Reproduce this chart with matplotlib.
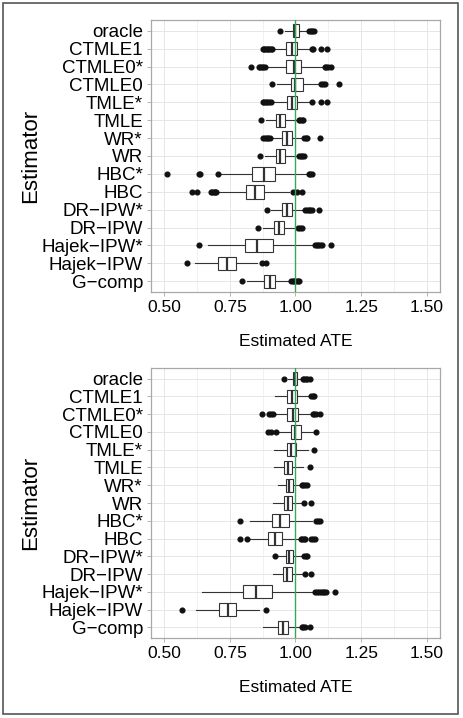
import matplotlib

matplotlib.use("Agg")
import matplotlib.pyplot as plt
from matplotlib.patches import Rectangle
from matplotlib.ticker import MultipleLocator

plt.rcParams["font.family"] = ["Liberation Sans", "DejaVu Sans"]

# ── Data ──────────────────────────────────────────────────────────────────────

estimators = [
    "oracle", "CTMLE1", "CTMLE0*", "CTMLE0", "TMLE*", "TMLE", "WR*", "WR",
    "HBC*", "HBC", "DR−IPW*", "DR−IPW", "Hajek−IPW*", "Hajek−IPW", "G−comp",
]

# top panel: whisker low, q1, median, q3, whisker high, outliers
top_whislo = [0.961, 0.913, 0.890, 0.928, 0.909, 0.887, 0.907, 0.884,
              0.718, 0.704, 0.906, 0.878, 0.666, 0.616, 0.817]
top_q1 = [0.990, 0.965, 0.965, 0.981, 0.966, 0.925, 0.950, 0.925,
          0.834, 0.810, 0.948, 0.919, 0.807, 0.706, 0.879]
top_med = [0.999, 0.986, 0.993, 1.000, 0.987, 0.941, 0.966, 0.941,
           0.879, 0.845, 0.966, 0.936, 0.853, 0.739, 0.902]
top_q3 = [1.013, 1.005, 1.021, 1.029, 1.006, 0.961, 0.985, 0.960,
          0.921, 0.880, 0.985, 0.956, 0.913, 0.774, 0.922]
top_whishi = [1.048, 1.054, 1.102, 1.094, 1.060, 1.010, 1.029, 1.010,
              1.044, 0.976, 1.029, 1.006, 1.069, 0.853, 0.979]
top_fliers = [
    [0.942, 1.051, 1.058, 1.062, 1.069],
    [0.875, 0.880, 0.885, 0.890, 0.895, 0.900, 0.905, 0.909, 1.062, 1.066, 1.098, 1.121],
    [0.829, 0.860, 0.866, 0.872, 0.878, 0.884, 1.111, 1.117, 1.123, 1.136],
    [0.909, 1.098, 1.104, 1.111, 1.164],
    [0.875, 0.880, 0.886, 0.892, 0.898, 0.905, 1.064, 1.098, 1.121],
    [0.868, 1.014, 1.018, 1.023, 1.029],
    [0.878, 0.884, 0.890, 0.896, 0.903, 1.033, 1.039, 1.045, 1.094],
    [0.863, 1.014, 1.020, 1.026, 1.032],
    [0.509, 0.631, 0.636, 0.704, 1.050, 1.056, 1.063],
    [0.607, 0.624, 0.679, 0.684, 0.689, 0.694, 0.699, 0.990, 1.004, 1.023],
    [0.890, 1.036, 1.043, 1.050, 1.057, 1.064, 1.089],
    [0.859, 1.010, 1.016, 1.023],
    [0.631, 1.073, 1.080, 1.087, 1.093, 1.100, 1.137],
    [0.588, 0.873, 0.887],
    [0.795, 0.984, 0.990, 0.996, 1.002, 1.008, 1.014],
]

# bottom panel
bot_whislo = [0.972, 0.922, 0.915, 0.934, 0.919, 0.918, 0.934, 0.915,
              0.827, 0.824, 0.934, 0.915, 0.645, 0.620, 0.878]
bot_q1 = [0.990, 0.966, 0.968, 0.981, 0.967, 0.956, 0.963, 0.956,
          0.911, 0.896, 0.963, 0.954, 0.801, 0.710, 0.932]
bot_med = [0.997, 0.985, 0.990, 1.000, 0.984, 0.970, 0.976, 0.970,
           0.942, 0.922, 0.977, 0.966, 0.851, 0.742, 0.951]
bot_q3 = [1.006, 1.004, 1.010, 1.020, 1.001, 0.988, 0.991, 0.987,
          0.976, 0.947, 0.991, 0.985, 0.910, 0.775, 0.970]
bot_whishi = [1.025, 1.057, 1.064, 1.073, 1.048, 1.029, 1.020, 1.027,
              1.064, 1.016, 1.029, 1.029, 1.066, 0.862, 1.016]
bot_fliers = [
    [0.958, 1.029, 1.034, 1.039, 1.044, 1.054],
    [1.060, 1.065, 1.070],
    [0.874, 0.900, 0.906, 0.913, 1.066, 1.072, 1.079, 1.094],
    [0.894, 0.907, 0.925, 1.079],
    [1.070],
    [1.054],
    [1.023, 1.029, 1.035, 1.042],
    [1.033, 1.060],
    [0.790, 1.079, 1.087, 1.094],
    [0.788, 0.816, 1.020, 1.026, 1.032, 1.038, 1.060, 1.068, 1.076],
    [0.921, 1.033, 1.039, 1.045],
    [1.035, 1.060],
    [1.073, 1.080, 1.088, 1.096, 1.103, 1.110, 1.117, 1.152],
    [0.567, 0.888],
    [1.026, 1.030, 1.035, 1.054],
]

true_ate = 1.0
x_ticks = [0.50, 0.75, 1.00, 1.25, 1.50]

# ── Style ─────────────────────────────────────────────────────────────────────

W, H = 464, 718
EDGE = "#333333"
GRID = "#e6e6e6"
BORDER = "#a8a8a8"
GREEN = "#34a853"


def draw_panel(ax, whislo, q1, med, q3, whishi, fliers):
    n = len(estimators)
    positions = list(range(n, 0, -1))
    stats = [
        dict(label=lab, whislo=a, q1=b, med=c, q3=d, whishi=e, fliers=f)
        for lab, a, b, c, d, e, f in zip(estimators, whislo, q1, med, q3, whishi, fliers)
    ]
    ax.bxp(
        stats,
        positions=positions,
        widths=0.75,
        orientation="horizontal",
        patch_artist=True,
        boxprops=dict(facecolor="white", edgecolor=EDGE, linewidth=0.8),
        medianprops=dict(color=EDGE, linewidth=1.6),
        whiskerprops=dict(color=EDGE, linewidth=0.8),
        capprops=dict(linewidth=0),
        flierprops=dict(marker="o", markerfacecolor="#111111",
                        markeredgecolor="#111111", markersize=3.4, linestyle="none"),
        zorder=3,
    )
    ax.axvline(true_ate, color=GREEN, linewidth=1.0, zorder=4)

    ax.set_xlim(0.45, 1.55)
    ax.set_ylim(0.4, n + 0.6)
    ax.set_xticks(x_ticks)
    ax.set_xticklabels([f"{t:.2f}" for t in x_ticks])
    ax.xaxis.set_minor_locator(MultipleLocator(0.125))
    ax.set_yticks(positions)
    ax.set_yticklabels(estimators)

    ax.grid(True, which="major", color=GRID, linewidth=0.7, zorder=0)
    ax.grid(True, which="minor", axis="x", color=GRID, linewidth=0.4, zorder=0)
    ax.set_axisbelow(True)
    ax.tick_params(axis="both", which="major", length=2.75, width=0.6,
                   color=BORDER, pad=3.0)
    ax.tick_params(axis="x", which="minor", length=0)
    ax.tick_params(axis="y", labelsize=13.5)
    ax.tick_params(axis="x", labelsize=12.5)
    for s in ax.spines.values():
        s.set_color(BORDER)
        s.set_linewidth(0.9)

    ax.set_xlabel("Estimated ATE", fontsize=12.5, labelpad=13.5)
    ax.set_ylabel("Estimator", fontsize=16)
    ax.yaxis.set_label_coords((41 - 151) / 289, 0.5)


# ── Figure ────────────────────────────────────────────────────────────────────

fig = plt.figure(figsize=(W / 100, H / 100), dpi=100)
ax_top = fig.add_axes([151 / W, 1 - 292 / H, 289 / W, 272 / H])
ax_bot = fig.add_axes([151 / W, 1 - 638 / H, 289 / W, 270 / H])

draw_panel(ax_top, top_whislo, top_q1, top_med, top_q3, top_whishi, top_fliers)
draw_panel(ax_bot, bot_whislo, bot_q1, bot_med, bot_q3, bot_whishi, bot_fliers)

fig.patches.append(
    Rectangle((3 / W, 1 - 714 / H), 455 / W, 711 / H, transform=fig.transFigure,
              fill=False, edgecolor="#555555", linewidth=1.2)
)

fig.savefig("out.png", dpi=100)
